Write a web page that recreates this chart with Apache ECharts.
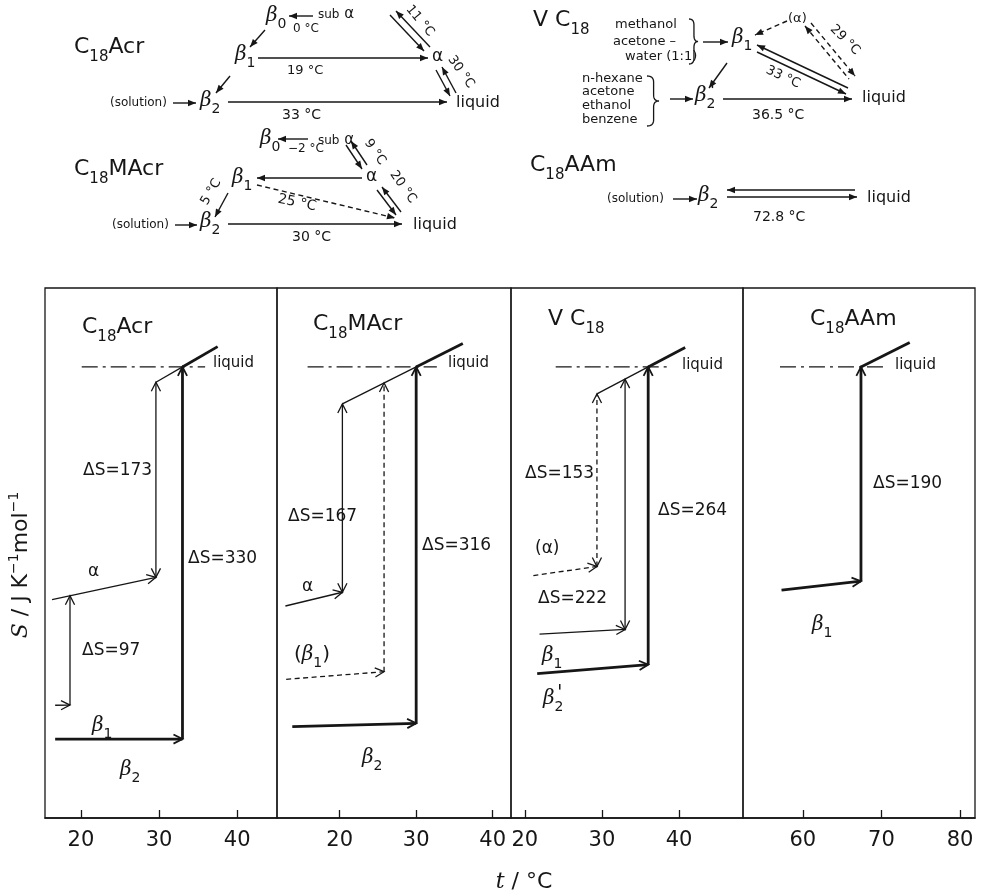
<!DOCTYPE html>
<html>
<head>
<meta charset="utf-8">
<script src="https://cdn.jsdelivr.net/npm/echarts@6/dist/echarts.min.js"></script>
<style>
  html, body { margin: 0; padding: 0; background: #fff; }
  #chart { width: 983px; height: 896px; }
</style>
</head>
<body>
<div id="chart"></div>
<script>
// ---------------- data ----------------
// temperature window (°C) and tick values of the four entropy panels
const xWindows = [[15.4, 45.1], [11.8, 42.4], [18.2, 48.3], [52.4, 81.9]];
const xTickValues = [[20, 30, 40], [20, 30, 40], [20, 30, 40], [60, 70, 80]];
const sWindow = [0, 470];          // S axis (J K-1 mol-1, arbitrary origin)
const sLiquidRef = 400;            // S of the liquid at the stable melting point

// liquid branch: [t where drawn from, melting point of stable form, t drawn to, dS/dt]
const acrLiquid  = [29.6, 33.0, 37.5, 4.0];
const macrLiquid = [20.35, 30.0, 36.1, 3.4];
const vcLiquid   = [29.35, 36.0, 40.8, 3.6];
const aamLiquid  = [67.4, 67.4, 73.6, 3.5];

// dash-dot level of the liquid at its melting point: [t from, t to]
const acrLevel  = [20.1, 35.9];
const macrLevel = [15.8, 32.7];
const vcLevel   = [24.0, 38.6];
const aamLevel  = [57.1, 70.7];

// crystal branches: [phase, t start, S start, t of transition, ΔS of transition, product]
const acrBranches = [
  ['α',  16.3, 193.7, 29.6, 173, 'liquid'],
  ['β1', 16.7, 100.0, 18.6,  97, 'α'],
  ['β2', 16.7,  70.0, 33.0, 330, 'liquid']
];
const macrBranches = [
  ['α',    12.9, 188.0, 20.35, 167, 'liquid'],
  ['(β1)', 13.0, 123.0, 25.8,  256, 'liquid'],
  ['β2',   13.8,  81.0, 30.0,  316, 'liquid']
];
const vcBranches = [
  ['(α)', 21.1, 215.0, 29.35, 153, 'liquid'],
  ['β1',  21.9, 163.0, 33.0,  222, 'liquid'],
  ["β2'", 21.6, 128.0, 36.0,  264, 'liquid']
];
const aamBranches = [
  ['β1', 57.3, 202.0, 67.4, 190, 'liquid']
];

// transition temperatures written in the phase schemes
const acrSchemeT  = ['0 °C', '11 °C', '19 °C', '30 °C', '33 °C'];
const macrSchemeT = ['−2 °C', '9 °C', '5 °C', '25 °C', '20 °C', '30 °C'];
const vcSchemeT   = ['29 °C', '33 °C', '36.5 °C'];
const aamSchemeT  = ['72.8 °C'];
const vcSolventsA = ['methanol', 'acetone –', 'water (1:1)'];
const vcSolventsB = ['n-hexane', 'acetone', 'ethanol', 'benzene'];

// ---------------- styles ----------------
const INK = '#161616';
const SANS = 'DejaVu Sans';
const SERIF = 'DejaVu Serif';
// line kind and arrowheads on the jump for every branch
const acrLook  = [['thin', true], ['thin', false], ['thick', false]];
const macrLook = [['thin', true], ['dash', false], ['thick', false]];
const vcLook   = [['dash', true], ['thin', true], ['thick', false]];
const aamLook  = [['thick', false]];
const KINDS = {
  thin:    { w: 1.3 },
  thick:   { w: 2.8 },
  dash:    { w: 1.3, dash: [5, 3.5] },
  dashdot: { w: 1.3, dash: [16, 5, 3, 5] }
};

// ---------------- segments of the S(t) panels ----------------
function buildSegments(liquid, level, branches, look) {
  const [tFrom, tm, tTo, slope] = liquid;
  const liq = t => sLiquidRef + slope * (t - tm);
  const segs = [];
  segs.push({ a: [level[0], sLiquidRef], b: [level[1], sLiquidRef], kind: 'dashdot' });
  if (tFrom < tm) segs.push({ a: [tFrom, liq(tFrom)], b: [tm, sLiquidRef], kind: 'thin' });
  segs.push({ a: [tm, sLiquidRef], b: [tTo, liq(tTo)], kind: 'thick' });
  const lines = {};
  branches.forEach(([name, t0, s0, t1, dS, product], k) => {
    let top;
    if (product === 'liquid') top = liq(t1);
    else {
      const [p, q] = lines[product];
      top = p[1] + (q[1] - p[1]) * (t1 - p[0]) / (q[0] - p[0]);
    }
    const s1 = top - dS;
    lines[name] = [[t0, s0], [t1, s1]];
    const [kind, twoWay] = look[k];
    segs.push({ a: [t0, s0], b: [t1, s1], kind, headEnd: true });
    segs.push({ a: [t1, s1], b: [t1, top], kind, headEnd: true, headStart: twoWay });
  });
  return segs;
}

function segmentSeries(i, segs) {
  return {
    type: 'custom',
    xAxisIndex: i, yAxisIndex: i,
    silent: true, clip: false,
    dimensions: ['t1', 's1', 't2', 's2'],
    encode: { x: [0, 2], y: [1, 3] },
    data: segs.map(s => [s.a[0], s.a[1], s.b[0], s.b[1]]),
    renderItem(params, api) {
      const s = segs[params.dataIndex];
      const st = KINDS[s.kind];
      const a = api.coord([api.value(0), api.value(1)]);
      const b = api.coord([api.value(2), api.value(3)]);
      const children = [{
        type: 'line',
        shape: { x1: a[0], y1: a[1], x2: b[0], y2: b[1] },
        style: { stroke: INK, lineWidth: st.w, lineDash: st.dash || null, fill: null }
      }];
      const chevron = (tip, from) => {
        const dx = tip[0] - from[0], dy = tip[1] - from[1];
        const L = Math.hypot(dx, dy) || 1, ux = dx / L, uy = dy / L;
        const hl = 9, hw = 4.6;
        return {
          type: 'polyline',
          shape: { points: [
            [tip[0] - ux * hl - uy * hw, tip[1] - uy * hl + ux * hw],
            [tip[0], tip[1]],
            [tip[0] - ux * hl + uy * hw, tip[1] - uy * hl - ux * hw]
          ] },
          style: { stroke: INK, lineWidth: Math.min(st.w, 1.8), fill: null }
        };
      };
      if (s.headEnd) children.push(chevron(b, a));
      if (s.headStart) children.push(chevron(a, b));
      return { type: 'group', children };
    }
  };
}

const panelSegs = [
  buildSegments(acrLiquid, acrLevel, acrBranches, acrLook),
  buildSegments(macrLiquid, macrLevel, macrBranches, macrLook),
  buildSegments(vcLiquid, vcLevel, vcBranches, vcLook),
  buildSegments(aamLiquid, aamLevel, aamBranches, aamLook)
];

// ---------------- text and scheme helpers ----------------
const mctx = document.createElement('canvas').getContext('2d');
function measure(t, size, fam, style) {
  mctx.font = `${style} ${size}px "${fam}"`;
  return mctx.measureText(t).width;
}
// text runs on a common baseline: kinds n (roman), i (italic), g (greek italic), s (subscript), p (superscript)
function runs(x, base, parts, size, center) {
  const items = parts.map(([t, k, sz]) => {
    let fs = sz || size, fam = SANS, st = 'normal', dy = 0;
    if (k === 'g') { fam = SERIF; st = 'italic'; }
    if (k === 'i') { fam = SERIF; st = 'italic'; }
    if (k === 's') { fs = Math.round(size * 0.68); dy = size * 0.32; }
    if (k === 'p') { fs = Math.round(size * 0.62); dy = -size * 0.42; }
    return { t, fs, fam, st, dy, w: measure(t, fs, fam, st) };
  });
  const total = items.reduce((acc, it) => acc + it.w, 0);
  let cx = center ? x - total / 2 : x;
  return items.map(it => {
    const el = {
      type: 'text', x: cx, y: base + it.dy - 0.35 * it.fs, silent: true,
      style: { text: it.t, fontSize: it.fs, fontFamily: it.fam, fontStyle: it.st,
               fill: INK, align: 'left', verticalAlign: 'middle' }
    };
    cx += it.w;
    return el;
  });
}
function rot(cx, cy, text, size, degCW) {
  return [{
    type: 'text', x: cx, y: cy, rotation: -degCW * Math.PI / 180, silent: true,
    style: { text, fontSize: size, fontFamily: SANS, fill: INK, align: 'center', verticalAlign: 'middle' }
  }];
}
function arrow(x1, y1, x2, y2, o = {}) {
  const lw = o.lw || 1.4;
  const els = [{
    type: 'line', silent: true, shape: { x1, y1, x2, y2 },
    style: { stroke: INK, lineWidth: lw, lineDash: o.dash ? [5, 3.5] : null }
  }];
  const head = (tx, ty, fx, fy) => {
    const dx = tx - fx, dy = ty - fy, L = Math.hypot(dx, dy), ux = dx / L, uy = dy / L;
    const hl = 8, hw = 3.2;
    return { type: 'polygon', silent: true,
      shape: { points: [[tx, ty], [tx - ux * hl - uy * hw, ty - uy * hl + ux * hw],
                        [tx - ux * hl + uy * hw, ty - uy * hl - ux * hw]] },
      style: { fill: INK } };
  };
  const h = o.head || 'end';
  if (h === 'end' || h === 'both') els.push(head(x2, y2, x1, y1));
  if (h === 'start' || h === 'both') els.push(head(x1, y1, x2, y2));
  return els;
}
// right-pointing curly brace from y1 to y2
function brace(x, y1, y2, w) {
  const ym = (y1 + y2) / 2, r = Math.min(6, (y2 - y1) / 5), xm = x + w * 0.55;
  const pts = [];
  const quad = (p0, c, p1) => {
    for (let k = 0; k <= 8; k++) {
      const t = k / 8, u = 1 - t;
      pts.push([u * u * p0[0] + 2 * u * t * c[0] + t * t * p1[0], u * u * p0[1] + 2 * u * t * c[1] + t * t * p1[1]]);
    }
  };
  quad([x, y1], [xm, y1], [xm, y1 + r]);
  quad([xm, ym - r], [xm, ym], [x + w, ym]);
  quad([x + w, ym], [xm, ym], [xm, ym + r]);
  quad([xm, y2 - r], [xm, y2], [x, y2]);
  return [{ type: 'polyline', silent: true, shape: { points: pts },
            style: { stroke: INK, lineWidth: 1.3, fill: null } }];
}
const beta = (sub) => [['β', 'g'], [sub, 's']];

const G = [];
const add = els => G.push(...els);

// ---- scheme: C18Acr ----
add(runs(74, 55, [['C', 'n'], ['18', 's'], ['Acr', 'n']], 22));
add(runs(266, 23, beta('0'), 20));
add(arrow(313, 16, 289, 16));
add(runs(318, 19, [['sub', 'n'], [' α', 'n', 15]], 12));
add(runs(293, 33, [[acrSchemeT[0], 'n']], 12));
add(arrow(265, 30, 250, 47));
add(runs(235, 62, beta('1'), 20));
add(arrow(258, 58, 428, 58));
add(runs(287, 75, [[acrSchemeT[2], 'n']], 13));
add(arrow(230, 76, 216, 93));
add(runs(110, 107, [['(solution)', 'n']], 12));
add(arrow(173, 103, 196, 103));
add(runs(200, 108, beta('2'), 20));
add(arrow(228, 102, 447, 102));
add(runs(282, 120, [[acrSchemeT[4], 'n']], 14));
add(runs(432, 63, [['α', 'n']], 17));
add(arrow(390, 15, 424, 51, { head: 'end' }));
add(arrow(396, 11, 430, 47, { head: 'start' }));
add(rot(420, 21, acrSchemeT[1], 13, 50));
add(arrow(436, 70, 450, 96, { head: 'end' }));
add(arrow(442, 67, 456, 93, { head: 'start' }));
add(rot(461, 72, acrSchemeT[3], 13, 55));
add(runs(456, 108, [['liquid', 'n']], 16));

// ---- scheme: C18MAcr ----
add(runs(74, 177, [['C', 'n'], ['18', 's'], ['MAcr', 'n']], 22));
add(runs(260, 146, beta('0'), 20));
add(runs(288, 153, [[macrSchemeT[0], 'n']], 12));
add(arrow(308, 139, 278, 139));
add(runs(318, 145, [['sub', 'n'], [' α', 'n', 15]], 12));
add(arrow(346, 145, 362, 169, { head: 'end' }));
add(arrow(351, 141, 367, 165, { head: 'start' }));
add(rot(375, 152, macrSchemeT[1], 13, 55));
add(runs(366, 183, [['α', 'n']], 17));
add(arrow(362, 178, 257, 178));
add(runs(232, 185, beta('1'), 20));
add(rot(211, 192, macrSchemeT[2], 13, -60));
add(arrow(228, 193, 215, 217));
add(runs(112, 229, [['(solution)', 'n']], 12));
add(arrow(175, 225, 197, 225));
add(runs(200, 229, beta('2'), 20));
add(arrow(228, 224, 402, 224));
add(runs(292, 242, [[macrSchemeT[5], 'n']], 14));
add(arrow(257, 185, 395, 218, { dash: true }));
add(rot(297, 203, macrSchemeT[3], 14, 12));
add(arrow(377, 190, 396, 215, { head: 'end' }));
add(arrow(382, 187, 401, 212, { head: 'start' }));
add(rot(403, 187, macrSchemeT[4], 13, 55));
add(runs(413, 230, [['liquid', 'n']], 16));

// ---- scheme: VC18 ----
add(runs(533, 28, [['V', 'n'], [' C', 'n'], ['18', 's']], 22));
vcSolventsA.forEach((t, k) => add(runs([615, 613, 625][k], [29, 46, 61][k], [[t, 'n']], 13)));
add(brace(689, 19, 64, 9));
add(arrow(703, 42, 728, 42));
add(runs(732, 45, beta('1'), 20));
add(runs(788, 23, [['(α)', 'n']], 13));
add(arrow(787, 21, 755, 35, { dash: true }));
add(arrow(805, 26, 849, 79, { dash: true, head: 'start' }));
add(arrow(811, 23, 855, 76, { dash: true, head: 'end' }));
add(rot(845, 40, vcSchemeT[0], 13, 45));
add(arrow(757, 45, 848, 88, { head: 'start' }));
add(arrow(757, 52, 846, 94, { head: 'end' }));
add(rot(783, 77, vcSchemeT[1], 13, 25));
add(runs(862, 103, [['liquid', 'n']], 16));
add(arrow(727, 63, 709, 88));
vcSolventsB.forEach((t, k) => add(runs(582, [83, 96, 110, 124][k], [[t, 'n']], 13)));
add(brace(647, 76, 126, 12));
add(arrow(670, 99, 693, 99));
add(runs(695, 103, beta('2'), 20));
add(runs(710, 99, [["'", 'i']], 18));
add(arrow(723, 99, 852, 99));
add(runs(752, 120, [[vcSchemeT[2], 'n']], 14));

// ---- scheme: C18AAm ----
add(runs(530, 173, [['C', 'n'], ['18', 's'], ['AAm', 'n']], 22));
add(runs(607, 203, [['(solution)', 'n']], 12));
add(arrow(673, 199, 697, 199));
add(runs(698, 203, beta('2'), 20));
add(arrow(855, 190, 727, 190));
add(arrow(727, 197, 857, 197));
add(runs(867, 203, [['liquid', 'n']], 16));
add(runs(753, 222, [[aamSchemeT[0], 'n']], 14));

// ---- panel annotations ----
const dS = (branches, k) => 'ΔS=' + branches[k][4];
// C18Acr
add(runs(82, 335, [['C', 'n'], ['18', 's'], ['Acr', 'n']], 22));
add(runs(213, 368, [['liquid', 'n']], 15));
add(runs(83, 477, [[dS(acrBranches, 0), 'n']], 17));
add(runs(188, 565, [[dS(acrBranches, 2), 'n']], 17));
add(runs(88, 578, [['α', 'n']], 17));
add(runs(82, 657, [[dS(acrBranches, 1), 'n']], 17));
add(runs(92, 733, beta('1'), 20));
add(runs(120, 777, beta('2'), 20));
// C18MAcr
add(runs(313, 332, [['C', 'n'], ['18', 's'], ['MAcr', 'n']], 22));
add(runs(448, 368, [['liquid', 'n']], 15));
add(runs(288, 523, [[dS(macrBranches, 0), 'n']], 17));
add(runs(422, 552, [[dS(macrBranches, 2), 'n']], 17));
add(runs(302, 593, [['α', 'n']], 17));
add(runs(294, 662, [['(', 'n'], ['β', 'g'], ['1', 's'], [')', 'n']], 20));
add(runs(362, 765, beta('2'), 20));
// VC18
add(runs(548, 327, [['V', 'n'], [' C', 'n'], ['18', 's']], 22));
add(runs(682, 370, [['liquid', 'n']], 15));
add(runs(525, 480, [[dS(vcBranches, 0), 'n']], 17));
add(runs(658, 517, [[dS(vcBranches, 2), 'n']], 17));
add(runs(535, 555, [['(α)', 'n']], 17));
add(runs(538, 605, [[dS(vcBranches, 1), 'n']], 17));
add(runs(542, 663, beta('1'), 20));
add(runs(543, 706, beta('2'), 20));
add(runs(557, 701, [["'", 'i']], 20));
// C18AAm
add(runs(810, 327, [['C', 'n'], ['18', 's'], ['AAm', 'n']], 22));
add(runs(895, 370, [['liquid', 'n']], 15));
add(runs(873, 490, [[dS(aamBranches, 0), 'n']], 17));
add(runs(812, 632, beta('1'), 20));

// ---- axis names ----
add(runs(524, 890, [['t', 'i'], [' / °C', 'n']], 22, true));
add([{
  type: 'group', x: 21, y: 565, rotation: Math.PI / 2, silent: true,
  children: runs(0, 0.35 * 22, [['S', 'i'], [' / J K', 'n'], ['−1', 'p'], ['mol', 'n'], ['−1', 'p']], 22, true)
}]);

// ---------------- chart ----------------
const gridBoxes = [[45, 232], [277, 234], [511, 232], [743, 232]];
const chart = echarts.init(document.getElementById('chart'), null, { renderer: 'canvas' });
chart.setOption({
  animation: false,
  backgroundColor: '#fff',
  grid: gridBoxes.map(([left, width]) => ({
    left, width, top: 288, height: 530,
    show: true, borderColor: INK, borderWidth: 1.3, backgroundColor: 'transparent'
  })),
  xAxis: gridBoxes.map((g, i) => ({
    gridIndex: i, type: 'value', min: xWindows[i][0], max: xWindows[i][1],
    axisLine: { show: true, onZero: false, lineStyle: { color: INK, width: 1.5 } },
    axisTick: { show: true, inside: true, length: 8, customValues: xTickValues[i],
                lineStyle: { color: INK, width: 1.3 } },
    axisLabel: { customValues: xTickValues[i], fontSize: 21, fontFamily: SANS,
                 color: INK, margin: 12 },
    splitLine: { show: false }
  })),
  yAxis: gridBoxes.map((g, i) => ({
    gridIndex: i, type: 'value', min: sWindow[0], max: sWindow[1], show: false,
    splitLine: { show: false }
  })),
  series: panelSegs.map((segs, i) => segmentSeries(i, segs)),
  graphic: { elements: G }
});
</script>
</body>
</html>
